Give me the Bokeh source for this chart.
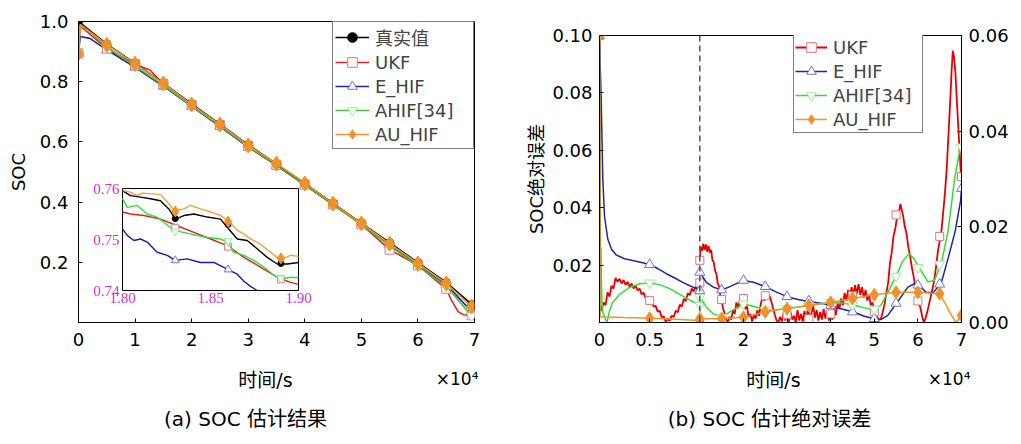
from bokeh.plotting import figure
from bokeh.models import (Range1d, LinearAxis, FixedTicker, Legend, LegendItem,
                          Span, NumeralTickFormatter, CustomJSTickFormatter)
from bokeh.layouts import row, column
from bokeh.embed import file_html
from bokeh.resources import INLINE
from bokeh.core.properties import value

LAT = "'DejaVu Sans', 'Noto Sans CJK SC'"

# ---------------- (a) SOC estimation (x in 1e4 s) ----------------
soc_xticks = [0, 1, 2, 3, 4, 5, 6, 7]
soc_yticks = [0.2, 0.4, 0.6, 0.8, 1.0]
soc_mk_x = [0, 0.5, 1.0, 1.5, 2.0, 2.5, 3.0, 3.5, 4.0, 4.5, 5.0, 5.5, 6.0, 6.5, 6.95]

true_x = [0, 0.5, 1.0, 1.5, 2.0, 2.5, 3.0, 3.5, 4.0, 4.5, 5.0, 5.5, 6.0, 6.5, 6.95]
true_y = [1.0, 0.925, 0.861, 0.795, 0.726, 0.659, 0.590, 0.527, 0.462, 0.396, 0.330, 0.265, 0.199, 0.133, 0.060]

ukf_x = [0, 0.03, 0.5, 1.0, 1.27, 1.5, 2.0, 2.5, 3.0, 3.5, 4.0, 4.5, 5.0, 5.5, 6.0, 6.5, 6.59, 6.71, 6.80, 6.95]
ukf_y = [0.894, 0.985, 0.910, 0.858, 0.838, 0.792, 0.722, 0.656, 0.587, 0.523, 0.458, 0.392, 0.326, 0.242,
         0.190, 0.112, 0.075, 0.036, 0.026, 0.024]

ehif_x = [0, 0.03, 0.2, 0.5, 1.0, 1.5, 2.0, 2.5, 3.0, 3.5, 4.0, 4.5, 5.0, 5.5, 6.0, 6.5, 6.95]
ehif_y = [0.894, 0.950, 0.944, 0.906, 0.848, 0.785, 0.718, 0.651, 0.583, 0.521, 0.457, 0.392, 0.328, 0.258,
          0.190, 0.126, 0.036]

ahif_x = [0, 0.015, 0.03, 0.08, 0.5, 1.0, 1.5, 2.0, 2.5, 3.0, 3.5, 4.0, 4.5, 5.0, 5.5, 6.0, 6.5, 6.95]
ahif_y = [0.894, 1.01, 0.975, 0.985, 0.915, 0.852, 0.788, 0.720, 0.653, 0.585, 0.522, 0.458, 0.391, 0.326,
          0.255, 0.187, 0.121, 0.022]

auhif_x = [0, 0.03, 0.5, 1.0, 1.5, 2.0, 2.5, 3.0, 3.5, 4.0, 4.5, 5.0, 5.5, 6.0, 6.5, 6.95]
auhif_y = [0.894, 0.990, 0.923, 0.860, 0.794, 0.724, 0.658, 0.588, 0.528, 0.462, 0.395, 0.329, 0.262, 0.196,
           0.130, 0.053]

# inset (zoom 1.80-1.90 x1e4 s, SOC 0.74-0.76)
inset_xticks = [1.80, 1.85, 1.90]
inset_yticks = [0.74, 0.75, 0.76]
inset_mk_x = [1.83, 1.86, 1.89]

in_true_x = [1.80, 1.8045, 1.8102, 1.8159, 1.8216, 1.8263, 1.8301, 1.8349, 1.8406, 1.8481, 1.8557, 1.8595,
             1.8652, 1.8709, 1.8765, 1.8822, 1.8879, 1.8936, 1.90]
in_true_y = [0.7596, 0.7586, 0.7583, 0.7580, 0.7576, 0.7560, 0.7540, 0.7547, 0.7550, 0.7544, 0.7540, 0.7524,
             0.7501, 0.7498, 0.7482, 0.7465, 0.7452, 0.7452, 0.7455]
in_true_mk = [0.7541, 0.7530, 0.7453]

in_auhif_x = [1.80, 1.8045, 1.8083, 1.8112, 1.8159, 1.8216, 1.8263, 1.8292, 1.8349, 1.8386, 1.8443, 1.85,
              1.8557, 1.8599, 1.8652, 1.869, 1.8727, 1.8784, 1.8841, 1.8879, 1.8907, 1.8955, 1.90]
in_auhif_y = [0.7596, 0.7593, 0.7586, 0.7591, 0.7590, 0.7588, 0.7570, 0.7557, 0.7560, 0.7567, 0.7560, 0.7554,
              0.7547, 0.7537, 0.7518, 0.7511, 0.7501, 0.7491, 0.7475, 0.7465, 0.7462, 0.7469, 0.7467]
in_auhif_mk = [0.7555, 0.7535, 0.7463]

in_ahif_x = [1.80, 1.8027, 1.8083, 1.814, 1.8197, 1.8292, 1.8386, 1.8481, 1.8557, 1.8595, 1.8633, 1.869,
             1.8746, 1.8803, 1.886, 1.8907, 1.8955, 1.90]
in_ahif_y = [0.7580, 0.7563, 0.7567, 0.7550, 0.7544, 0.7518, 0.7511, 0.7504, 0.7501, 0.7495, 0.7475, 0.7469,
             0.7459, 0.7446, 0.7430, 0.7423, 0.7426, 0.7425]
in_ahif_mk = [0.7516, 0.7497, 0.7424]

in_ukf_x = [1.80, 1.8045, 1.8121, 1.8216, 1.8311, 1.8406, 1.85, 1.8595, 1.869, 1.8784, 1.8879, 1.8955, 1.90]
in_ukf_y = [0.7554, 0.7550, 0.7547, 0.7540, 0.7527, 0.7514, 0.7501, 0.7488, 0.7465, 0.7446, 0.7426, 0.7416,
            0.7412]
in_ukf_mk = [0.7523, 0.7486, 0.7422]

in_ehif_x = [1.80, 1.8027, 1.8065, 1.8102, 1.814, 1.8197, 1.8254, 1.8301, 1.8367, 1.8443, 1.8519, 1.8595,
             1.8652, 1.869, 1.8727, 1.8765]
in_ehif_y = [0.7521, 0.7508, 0.7498, 0.7501, 0.7495, 0.7475, 0.7469, 0.7459, 0.7462, 0.7455, 0.7455, 0.7442,
             0.7432, 0.7418, 0.7408, 0.7400]
in_ehif_mk_x = [1.83, 1.86]
in_ehif_mk = [0.7459, 0.7441]

# ---------------- (b) absolute error ----------------
err_xticks = [0, 0.5, 1, 2, 3, 4, 5, 6, 7]
err_xlabels = ["0", "0.5", "1", "2", "3", "4", "5", "6", "7"]
err_yticks_l = [0.02, 0.04, 0.06, 0.08, 0.10]
err_yticks_r = [0.0, 0.02, 0.04, 0.06]

# segment 1: 0..1 (x1e4 s), left axis 0..0.1
ukf1_x = [0, 0.008, 0.02,
          0.04, 0.06, 0.08, 0.10, 0.12, 0.14, 0.16, 0.18, 0.20, 0.22,
          0.24, 0.26, 0.28, 0.30, 0.32, 0.34, 0.36, 0.38, 0.40, 0.42,
          0.44, 0.46, 0.48, 0.50, 0.52, 0.54, 0.56, 0.58, 0.60, 0.62,
          0.64, 0.66, 0.68, 0.70, 0.72, 0.74, 0.76, 0.78, 0.80, 0.82,
          0.84, 0.86, 0.88, 0.90, 0.92, 0.94, 0.96, 0.98, 1.00]
ukf1_y = [0.1, 0.006, 0.004,
          0.0070, 0.0060, 0.0105, 0.0090, 0.0128, 0.0118, 0.0155, 0.0142, 0.0152, 0.0136,
          0.0148, 0.0131, 0.0142, 0.0125, 0.0136, 0.0119, 0.0128, 0.0112, 0.0118, 0.0098,
          0.0104, 0.0085, 0.0089, 0.0072, 0.0076, 0.0055, 0.0058, 0.0038, 0.0041, 0.0018,
          0.0022, 0.0003, 0.0012, 0.0006, 0.0024, 0.0019, 0.0041, 0.0036, 0.0062, 0.0055,
          0.0082, 0.0074, 0.0102, 0.0095, 0.0118, 0.0108, 0.0126, 0.0116, 0.0132]
ehif1_x = [0, 0.005, 0.017, 0.033, 0.05, 0.083, 0.12, 0.167, 0.25, 0.33, 0.42, 0.5, 0.58, 0.667, 0.75, 0.83,
           0.9, 0.967, 1.0]
ehif1_y = [0.1, 0.092, 0.078, 0.050, 0.037, 0.029, 0.0255, 0.0235, 0.0222, 0.0216, 0.0209, 0.0202, 0.0188,
           0.0170, 0.0155, 0.0140, 0.0128, 0.0118, 0.0111]
ahif1_x = [0, 0.004, 0.01, 0.015, 0.02, 0.03, 0.05, 0.075, 0.1, 0.13, 0.2, 0.3, 0.4, 0.5, 0.6, 0.7, 0.8, 0.9, 1.0]
ahif1_y = [0.1, 0.003, 0.012, 0.026, 0.012, 0.004, 0.002, 0.0, 0.004, 0.007, 0.0098, 0.0122, 0.0135, 0.0138,
           0.0132, 0.0118, 0.0098, 0.0078, 0.006]
auhif1_x = [0, 0.006, 0.05, 0.25, 0.5, 0.75, 1.0]
auhif1_y = [0.1, 0.002, 0.0019, 0.0017, 0.0015, 0.0011, 0.0007]
seg1_mk_x = [0, 0.5, 1.0]
ukf1_mk = [0.1, 0.0077, 0.0138]
ehif1_mk = [0.1, 0.0202, 0.0111]
ahif1_mk = [0.1, 0.0138, 0.006]
auhif1_mk = [0.1, 0.0015, 0.0007]

# segment 2: 1..7 (x1e4 s), right axis 0..0.06
ukf2_x = [1.00, 1.02, 1.05, 1.08, 1.11, 1.14, 1.17, 1.20, 1.23, 1.26,
          1.29, 1.32, 1.35, 1.38, 1.41, 1.44, 1.47, 1.50, 1.53, 1.56,
          1.60, 1.64, 1.68, 1.72, 1.76, 1.80, 1.84, 1.88, 1.92, 1.96,
          2.00, 2.04, 2.08, 2.12, 2.16, 2.20, 2.24, 2.28, 2.32, 2.36,
          2.40, 2.44, 2.48, 2.52, 2.56, 2.60, 2.64, 2.68, 2.72, 2.76,
          2.80, 2.84, 2.88, 2.92, 2.96, 3.00, 3.04, 3.08, 3.12, 3.16,
          3.20, 3.24, 3.28, 3.32, 3.36, 3.40, 3.44, 3.48, 3.52, 3.56,
          3.60, 3.64, 3.68, 3.72, 3.76, 3.80, 3.84, 3.88, 3.92, 3.96,
          4.00, 4.04, 4.08, 4.12, 4.16, 4.20, 4.24, 4.28, 4.32, 4.36,
          4.40, 4.44, 4.48, 4.52, 4.56, 4.60, 4.64, 4.68, 4.72, 4.76,
          4.80, 4.84, 4.88, 4.92, 4.96, 5.00, 5.04, 5.08, 5.12, 5.16,
          5.20, 5.24, 5.28, 5.32, 5.36, 5.40, 5.44, 5.48, 5.52, 5.56,
          5.60, 5.63, 5.66, 5.70, 5.74, 5.78, 5.82, 5.86, 5.90, 5.94,
          5.98, 6.02, 6.06, 6.10, 6.14, 6.18, 6.22, 6.26, 6.30, 6.34,
          6.38, 6.42, 6.46, 6.50, 6.54, 6.58, 6.62, 6.66, 6.70, 6.74,
          6.77, 6.80, 6.83, 6.86, 6.89, 6.92, 6.95, 6.98, 7.00]
ukf2_y = [0.0130, 0.0158, 0.0150, 0.0165, 0.0152, 0.0163, 0.0148, 0.0160, 0.0146, 0.0152,
          0.0130, 0.0126, 0.0108, 0.0102, 0.0082, 0.0076, 0.0056, 0.0048, 0.0030, 0.0022,
          0.0008, 0.0000, 0.0012, 0.0006, 0.0026, 0.0018, 0.0042, 0.0030, 0.0048, 0.0036,
          0.0050, 0.0028, 0.0034, 0.0012, 0.0018, 0.0002, 0.0016, 0.0008, 0.0026, 0.0014,
          0.0040, 0.0052, 0.0046, 0.0058, 0.0050, 0.0056, 0.0044, 0.0030, 0.0016, 0.0004,
          0.0000, 0.0012, 0.0002, 0.0020, 0.0004, 0.0016, 0.0000, 0.0022, 0.0006, 0.0014,
          0.0000, 0.0026, 0.0004, 0.0018, 0.0002, 0.0024, 0.0006, 0.0030, 0.0008, 0.0020,
          0.0034, 0.0010, 0.0026, 0.0004, 0.0022, 0.0006, 0.0028, 0.0008, 0.0024, 0.0004,
          0.0018, 0.0006, 0.0030, 0.0016, 0.0040, 0.0028, 0.0050, 0.0036, 0.0062, 0.0046,
          0.0068, 0.0052, 0.0074, 0.0056, 0.0078, 0.0060, 0.0080, 0.0058, 0.0074, 0.0052,
          0.0068, 0.0046, 0.0058, 0.0036, 0.0042, 0.0022, 0.0026, 0.0008, 0.0006, 0.0010,
          0.0024, 0.0040, 0.0064, 0.0084, 0.0124, 0.0146, 0.0180, 0.0196, 0.0218, 0.0228,
          0.0248, 0.0236, 0.0224, 0.0200, 0.0186, 0.0158, 0.0140, 0.0116, 0.0098, 0.0076,
          0.0062, 0.0042, 0.0030, 0.0012, 0.0000, 0.0010, 0.0024, 0.0040, 0.0056, 0.0072,
          0.0092, 0.0118, 0.0150, 0.0170, 0.0192, 0.0230, 0.0270, 0.0320, 0.0390, 0.0460,
          0.0520, 0.0568, 0.0555, 0.0522, 0.0470, 0.0420, 0.0370, 0.0320, 0.0295]
ehif2_x = [1.0, 1.15, 1.31, 1.5, 1.69, 2.0, 2.23, 2.5, 2.77, 3.0, 3.25, 3.5, 3.85, 4.15, 4.39, 4.52,
           4.77, 5.0, 5.15, 5.31, 5.54, 5.77, 5.92, 6.04, 6.19, 6.35, 6.54, 6.69, 6.85, 6.98, 7.0]
ehif2_y = [0.0105, 0.0084, 0.0074, 0.0068, 0.0075, 0.0088, 0.0084, 0.0075, 0.0063, 0.0054, 0.0048, 0.0044,
           0.0039, 0.0031, 0.0025, 0.0022, 0.0013, 0.0008, 0.0006, 0.0015, 0.0044, 0.0074, 0.0081, 0.0077,
           0.0063, 0.0062, 0.0084, 0.0133, 0.0189, 0.0255, 0.0280]
ahif2_x = [1.0, 1.15, 1.31, 1.5, 1.69, 2.0, 2.31, 2.54, 3.0, 3.54, 4.0, 4.31, 4.54, 4.85, 5.0,
           5.15, 5.31, 5.5, 5.65, 5.8, 5.92, 6.04, 6.23, 6.38, 6.54, 6.69, 6.85, 6.96, 7.0]
ahif2_y = [0.0053, 0.0032, 0.0018, 0.0011, 0.0022, 0.0039, 0.0032, 0.0025, 0.0029, 0.0036, 0.0042,
           0.0040, 0.0036, 0.0029, 0.0028, 0.0036, 0.0063, 0.0097, 0.0128, 0.0144, 0.0132, 0.0113,
           0.0085, 0.0088, 0.0125, 0.0190, 0.0305, 0.0360, 0.0367]
auhif2_x = [1.0, 1.5, 2.0, 2.5, 3.0, 3.5, 4.0, 4.5, 5.0, 5.5, 6.0, 6.5, 6.65, 6.77, 6.88, 7.0]
auhif2_y = [0.0008, 0.0008, 0.0011, 0.0022, 0.0029, 0.0036, 0.0042, 0.0050, 0.0058, 0.0063, 0.0063,
            0.0060, 0.0036, 0.0015, 0.0000, 0.0015]
seg2_mk_x = [1.0, 1.5, 2.0, 2.5, 3.0, 3.5, 4.0, 4.5, 5.0, 5.5, 6.0, 6.5, 7.0]
ukf2_mk = [0.0130, 0.0048, 0.0050, 0.0056, 0.0016, 0.0008, 0.0018, 0.0056, 0.0022, 0.0225, 0.0045, 0.0180, 0.0305]
ehif2_mk = [0.0105, 0.0068, 0.0088, 0.0075, 0.0054, 0.0045, 0.0035, 0.0022, 0.0008, 0.0040, 0.0078, 0.0080, 0.0280]
ahif2_mk = [0.0053, 0.0011, 0.0039, 0.0026, 0.0029, 0.0035, 0.0042, 0.0037, 0.0028, 0.0097, 0.0115, 0.0122, 0.0367]
auhif2_mk = [0.0008, 0.0008, 0.0011, 0.0022, 0.0029, 0.0036, 0.0042, 0.0050, 0.0058, 0.0063, 0.0063, 0.0060, 0.0015]

# texts under the two panels
bottom_texts = ["时间/s", "×10⁴", "(a) SOC 估计结果", "时间/s", "×10⁴", "(b) SOC 估计绝对误差"]

# ---------------- styling constants ----------------
C_BLACK = "#000000"
C_RED1, C_RED2 = "#cc2a2a", "#e80000"
C_BLUE = "#1c2a9a"
C_GREEN1, C_GREEN2 = "#4cbf3c", "#33dd33"
C_ORANGE = "#f0922a"
SQ = "#e07480"
TRI = "#7070dd"
ITRI = "#9be89b"


def style_axis(ax, standoff=10):
    ax.major_tick_in = 4
    ax.major_tick_out = 0
    ax.minor_tick_line_color = None
    ax.axis_line_color = "black"
    ax.major_tick_line_color = "black"
    ax.major_label_text_font = LAT
    ax.major_label_text_font_size = "18px"
    ax.major_label_text_color = "black"
    ax.major_label_standoff = standoff
    ax.axis_label_text_font = LAT
    ax.axis_label_text_font_size = "18px"
    ax.axis_label_text_font_style = "normal"
    ax.axis_label_text_color = "black"


def marks(xs, ys, keep):
    pairs = [(x, y) for x, y in zip(xs, ys) if x in keep]
    return [p[0] for p in pairs], [p[1] for p in pairs]


BOT = 36  # space under the frames for tick labels

# ================= panel (a) =================
FW1, FH1 = 396, 301
IL, IR, IB, IT = 44, 220, 32, 134   # inset box in frame pixels
sxp = (inset_xticks[-1] - inset_xticks[0]) / (IR - IL)
syp = (inset_yticks[-1] - inset_yticks[0]) / (IT - IB)
ix_range = Range1d(inset_xticks[0] - IL * sxp, inset_xticks[-1] + (FW1 - IR) * sxp)
iy_range = Range1d(inset_yticks[0] - IB * syp, inset_yticks[-1] + (FH1 - IT) * syp)

p1 = figure(frame_width=FW1, frame_height=FH1, x_range=Range1d(0, 7.0), y_range=Range1d(0, 1.0),
            extra_x_ranges={"ix": ix_range}, extra_y_ranges={"iy": iy_range},
            output_backend="svg", toolbar_location=None, title=None, frame_align=False,
            min_border_left=78, min_border_right=46, min_border_top=21, min_border_bottom=BOT)
p1.outline_line_color = "black"
p1.xgrid.visible = False
p1.ygrid.visible = False
p1.xaxis.ticker = FixedTicker(ticks=soc_xticks)
p1.yaxis.ticker = FixedTicker(ticks=soc_yticks)
p1.yaxis.formatter = NumeralTickFormatter(format="0.0")
p1.yaxis.axis_label = "SOC"
style_axis(p1.xaxis[0], 10)
style_axis(p1.yaxis[0], 10)
p1.yaxis.axis_label_standoff = 8

lw = 1.6
r_eh = p1.line(ehif_x, ehif_y, line_color=C_BLUE, line_width=lw)
mx, my = marks(ehif_x, ehif_y, soc_mk_x)
m_eh = p1.scatter(mx, my, marker="triangle", size=10, line_color=TRI, fill_color="white")
r_uk = p1.line(ukf_x, ukf_y, line_color=C_RED1, line_width=lw)
mx, my = marks(ukf_x, ukf_y, soc_mk_x)
m_uk = p1.scatter(mx, my, marker="square", size=9, line_color=SQ, fill_color="white")
r_ah = p1.line(ahif_x, ahif_y, line_color=C_GREEN1, line_width=lw)
mx, my = marks(ahif_x, ahif_y, soc_mk_x)
m_ah = p1.scatter(mx, my, marker="inverted_triangle", size=10, line_color=ITRI, fill_color="white")
r_tr = p1.line(true_x, true_y, line_color=C_BLACK, line_width=lw)
m_tr = p1.scatter(true_x, true_y, marker="circle", size=8, line_color=C_BLACK, fill_color=C_BLACK)
r_au = p1.line(auhif_x, auhif_y, line_color=C_ORANGE, line_width=lw)
mx, my = marks(auhif_x, auhif_y, soc_mk_x)
m_au = p1.scatter(mx, my, marker="diamond", size=15, line_color=C_ORANGE, fill_color=C_ORANGE)

# inset
p1.quad(left=[inset_xticks[0]], right=[inset_xticks[-1]], bottom=[inset_yticks[0]], top=[inset_yticks[-1]],
        fill_color="white", line_color="black", line_width=1, x_range_name="ix", y_range_name="iy")
ik = dict(x_range_name="ix", y_range_name="iy")
p1.line(in_ehif_x, in_ehif_y, line_color="#1a1aa8", line_width=1.4, **ik)
p1.scatter(in_ehif_mk_x, in_ehif_mk, marker="triangle", size=8, line_color=TRI, fill_color="white", **ik)
p1.line(in_ukf_x, in_ukf_y, line_color="#dd2020", line_width=1.4, **ik)
p1.scatter(inset_mk_x, in_ukf_mk, marker="square", size=7, line_color=SQ, fill_color="white", **ik)
p1.line(in_ahif_x, in_ahif_y, line_color="#33dd33", line_width=1.4, **ik)
p1.scatter(inset_mk_x, in_ahif_mk, marker="inverted_triangle", size=8, line_color=ITRI, fill_color="white", **ik)
p1.line(in_true_x, in_true_y, line_color="black", line_width=1.4, **ik)
p1.scatter(inset_mk_x, in_true_mk, marker="circle", size=6, line_color="black", fill_color="black", **ik)
p1.line(in_auhif_x, in_auhif_y, line_color="#f0a040", line_width=1.4, **ik)
p1.scatter(inset_mk_x, in_auhif_mk, marker="diamond", size=11, line_color="#f0922a", fill_color="#f0922a", **ik)
p1.text(x=inset_xticks, y=[inset_yticks[0]] * 3, text=["%.2f" % v for v in inset_xticks],
        text_color="#cc33cc", text_font=value("Liberation Serif"), text_font_size="15px",
        text_align="center", text_baseline="top", y_offset=2, **ik)
p1.text(x=[inset_xticks[0]] * 3, y=inset_yticks, text=["%.2f" % v for v in inset_yticks],
        text_color="#cc33cc", text_font=value("Liberation Serif"), text_font_size="15px",
        text_align="right", text_baseline="middle", x_offset=-3, **ik)

leg1 = Legend(items=[LegendItem(label="真实值", renderers=[r_tr, m_tr]),
                     LegendItem(label="UKF", renderers=[r_uk, m_uk]),
                     LegendItem(label="E_HIF", renderers=[r_eh, m_eh]),
                     LegendItem(label="AHIF[34]", renderers=[r_ah, m_ah]),
                     LegendItem(label="AU_HIF", renderers=[r_au, m_au])],
              location="top_right", margin=0, padding=2, spacing=0,
              glyph_width=34, glyph_height=24, label_height=24, label_width=96, label_standoff=6,
              label_text_font=LAT, label_text_font_size="18px",
              border_line_color="black", border_line_width=1, background_fill_alpha=1)
p1.add_layout(leg1)

# ================= panel (b) =================
R = 2.3  # stretch of the 0..1 segment of the broken axis


def u(x):
    return x * R if x <= 1 else R + (x - 1)


def U(xs):
    return [u(x) for x in xs]


p2 = figure(frame_width=362, frame_height=287, x_range=Range1d(0, u(7.0)), y_range=Range1d(0, 0.1),
            extra_y_ranges={"r": Range1d(0, 0.06)},
            output_backend="svg", toolbar_location=None, title=None, frame_align=False,
            min_border_left=79, min_border_right=52, min_border_top=35, min_border_bottom=BOT)
p2.outline_line_color = "black"
p2.xgrid.visible = False
p2.ygrid.visible = False
tick_pos = U(err_xticks)
p2.xaxis.ticker = FixedTicker(ticks=tick_pos)
p2.xaxis.formatter = CustomJSTickFormatter(args=dict(pos=tick_pos, lab=err_xlabels), code="""
let b = 0;
for (let i = 0; i < pos.length; i++) { if (Math.abs(pos[i] - tick) < Math.abs(pos[b] - tick)) b = i; }
return lab[b];
""")
p2.yaxis.ticker = FixedTicker(ticks=err_yticks_l)
p2.yaxis.formatter = NumeralTickFormatter(format="0.00")
p2.yaxis.axis_label = "SOC绝对误差"
style_axis(p2.xaxis[0], 10)
style_axis(p2.yaxis[0], 7)
p2.yaxis.axis_label_standoff = 2
ax_r = LinearAxis(y_range_name="r", ticker=FixedTicker(ticks=err_yticks_r),
                  formatter=NumeralTickFormatter(format="0.00"))
style_axis(ax_r, 7)
p2.add_layout(ax_r, "right")

p2.add_layout(Span(location=u(1.0), dimension="height", line_color="#555555",
                   line_dash="6 4", line_width=1.5))

R2 = dict(y_range_name="r")
p2.line(U(ukf1_x), ukf1_y, line_color=C_RED2, line_width=1.8)
p2.scatter(U(seg1_mk_x), ukf1_mk, marker="square", size=8, line_color=SQ, fill_color="white")
q_uk = p2.line(U(ukf2_x), ukf2_y, line_color=C_RED2, line_width=1.8, **R2)
n_uk = p2.scatter(U(seg2_mk_x), ukf2_mk, marker="square", size=8, line_color=SQ, fill_color="white", **R2)
p2.line(U(ehif1_x), ehif1_y, line_color=C_BLUE, line_width=1.5)
p2.scatter(U(seg1_mk_x), ehif1_mk, marker="triangle", size=10, line_color=TRI, fill_color="white")
q_eh = p2.line(U(ehif2_x), ehif2_y, line_color=C_BLUE, line_width=1.5, **R2)
n_eh = p2.scatter(U(seg2_mk_x), ehif2_mk, marker="triangle", size=10, line_color=TRI, fill_color="white", **R2)
p2.line(U(ahif1_x), ahif1_y, line_color=C_GREEN2, line_width=1.5)
p2.scatter(U(seg1_mk_x), ahif1_mk, marker="inverted_triangle", size=10, line_color=ITRI, fill_color="white")
q_ah = p2.line(U(ahif2_x), ahif2_y, line_color=C_GREEN2, line_width=1.5, **R2)
n_ah = p2.scatter(U(seg2_mk_x), ahif2_mk, marker="inverted_triangle", size=10, line_color=ITRI,
                  fill_color="white", **R2)
p2.line(U(auhif1_x), auhif1_y, line_color=C_ORANGE, line_width=1.5)
p2.scatter(U(seg1_mk_x), auhif1_mk, marker="diamond", size=13, line_color=C_ORANGE, fill_color=C_ORANGE)
q_au = p2.line(U(auhif2_x), auhif2_y, line_color=C_ORANGE, line_width=1.5, **R2)
n_au = p2.scatter(U(seg2_mk_x), auhif2_mk, marker="diamond", size=13, line_color=C_ORANGE,
                  fill_color=C_ORANGE, **R2)

leg2 = Legend(items=[LegendItem(label="UKF", renderers=[q_uk, n_uk]),
                     LegendItem(label="E_HIF", renderers=[q_eh, n_eh]),
                     LegendItem(label="AHIF[34]", renderers=[q_ah, n_ah]),
                     LegendItem(label="AU_HIF", renderers=[q_au, n_au])],
              location=(194, 189), margin=0, padding=1, spacing=0,
              glyph_width=32, glyph_height=24, label_height=24, label_width=88, label_standoff=6,
              label_text_font=LAT, label_text_font_size="18px",
              border_line_color="black", border_line_width=1, background_fill_alpha=1)
p2.add_layout(leg2)

# ================= strip with the texts under both panels =================
SW, SH = 1013, 82
strip = figure(frame_width=SW, frame_height=SH, x_range=Range1d(0, SW), y_range=Range1d(SH, 0),
               output_backend="svg", toolbar_location=None, title=None, frame_align=False,
               x_axis_location=None, y_axis_location=None, min_border=0)
strip.outline_line_color = None
strip.xgrid.visible = False
strip.ygrid.visible = False
# positions (strip pixels) of: axis label a, x10^4 a, caption a, axis label b, x10^4 b, caption b
tx = [265, 478, 245, 773, 970, 769]
ty = [21, 20, 60, 21, 20, 60]
align = ["center", "right", "center", "center", "right", "center"]
sizes = ["19px", "17px", "20px", "19px", "17px", "20px"]
strip.text(x=tx, y=ty, text=bottom_texts, text_align=align, text_font_size=sizes,
           text_baseline="middle", text_color="black", text_font=value(LAT))

layout = column(row(p1, p2), strip)
open("out.html", "w").write(file_html(layout, INLINE))
